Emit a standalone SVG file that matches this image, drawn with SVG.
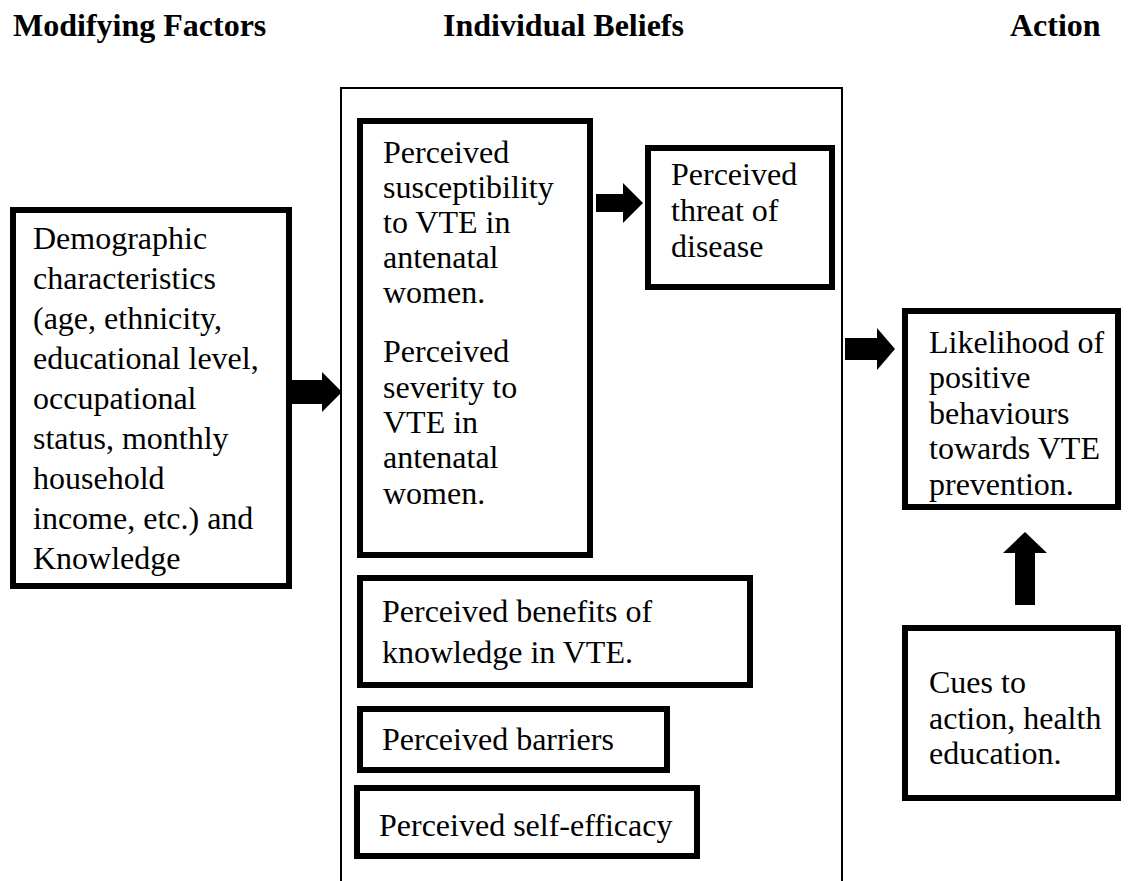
<svg xmlns="http://www.w3.org/2000/svg" width="1137" height="881" viewBox="0 0 1137 881">
<style>
.t{font-family:"Liberation Serif","Times New Roman",Times,serif;font-size:32px;fill:#000}
.h{font-family:"Liberation Serif","Times New Roman",Times,serif;font-size:32px;font-weight:bold;fill:#000}
.box{fill:#fff;stroke:#000;stroke-width:6}
.frame{fill:none;stroke:#000;stroke-width:2}
.arr{fill:#000;stroke:none}
</style>
<rect width="1137" height="881" fill="#fff"/>
<g id="titles">
<text class="h" x="13" y="36">Modifying Factors</text>
<text class="h" x="443" y="36">Individual Beliefs</text>
<text class="h" x="1010" y="36">Action</text>
</g>
<g id="beliefs-frame"><path class="frame" d="M341,890 V88 H842 V890"/></g>
<g id="demographic">
<rect class="box" x="13" y="210" width="276" height="376"/>
<text class="t" x="33" y="249">Demographic</text>
<text class="t" x="33" y="289">characteristics</text>
<text class="t" x="33" y="329">(age, ethnicity,</text>
<text class="t" x="33" y="369">educational level,</text>
<text class="t" x="33" y="409">occupational</text>
<text class="t" x="33" y="449">status, monthly</text>
<text class="t" x="33" y="489">household</text>
<text class="t" x="33" y="529">income, etc.) and</text>
<text class="t" x="33" y="569">Knowledge</text>
</g>
<g id="susceptibility-severity">
<rect class="box" x="360" y="121" width="230" height="434"/>
<text class="t" x="383" y="163">Perceived</text>
<text class="t" x="383" y="198">susceptibility</text>
<text class="t" x="383" y="233">to VTE in</text>
<text class="t" x="383" y="268">antenatal</text>
<text class="t" x="383" y="303">women.</text>
<text class="t" x="383" y="362">Perceived</text>
<text class="t" x="383" y="398">severity to</text>
<text class="t" x="383" y="433">VTE in</text>
<text class="t" x="383" y="468">antenatal</text>
<text class="t" x="383" y="504">women.</text>
</g>
<g id="threat">
<rect class="box" x="648" y="148" width="184" height="139"/>
<text class="t" x="671" y="185">Perceived</text>
<text class="t" x="671" y="221">threat of</text>
<text class="t" x="671" y="257">disease</text>
</g>
<g id="benefits">
<rect class="box" x="360" y="578" width="390" height="107"/>
<text class="t" x="382" y="622">Perceived benefits of</text>
<text class="t" x="382" y="663">knowledge in VTE.</text>
</g>
<g id="barriers">
<rect class="box" x="360" y="709" width="307" height="61"/>
<text class="t" x="382" y="750">Perceived barriers</text>
</g>
<g id="self-efficacy">
<rect class="box" x="357" y="788" width="340" height="68"/>
<text class="t" x="379" y="836">Perceived self-efficacy</text>
</g>
<g id="likelihood">
<rect class="box" x="905" y="311" width="213" height="196"/>
<text class="t" x="929" y="353">Likelihood of</text>
<text class="t" x="929" y="388">positive</text>
<text class="t" x="929" y="424">behaviours</text>
<text class="t" x="929" y="459">towards VTE</text>
<text class="t" x="929" y="495">prevention.</text>
</g>
<g id="cues">
<rect class="box" x="905" y="628" width="213" height="170"/>
<text class="t" x="929" y="693">Cues to</text>
<text class="t" x="929" y="729">action, health</text>
<text class="t" x="929" y="764">education.</text>
</g>
<g id="connectors">
<polygon class="arr" points="292,380 322,380 322,372 342,392 322,412 322,404 292,404"/>
<polygon class="arr" points="596,194 623,194 623,183 643,203 623,223 623,212 596,212"/>
<polygon class="arr" points="845,338 877,338 877,328 895,349 877,370 877,360 845,360"/>
<polygon class="arr" points="1015,605 1015,553 1003,553 1025,532 1047,553 1035,553 1035,605"/>
</g>
</svg>
